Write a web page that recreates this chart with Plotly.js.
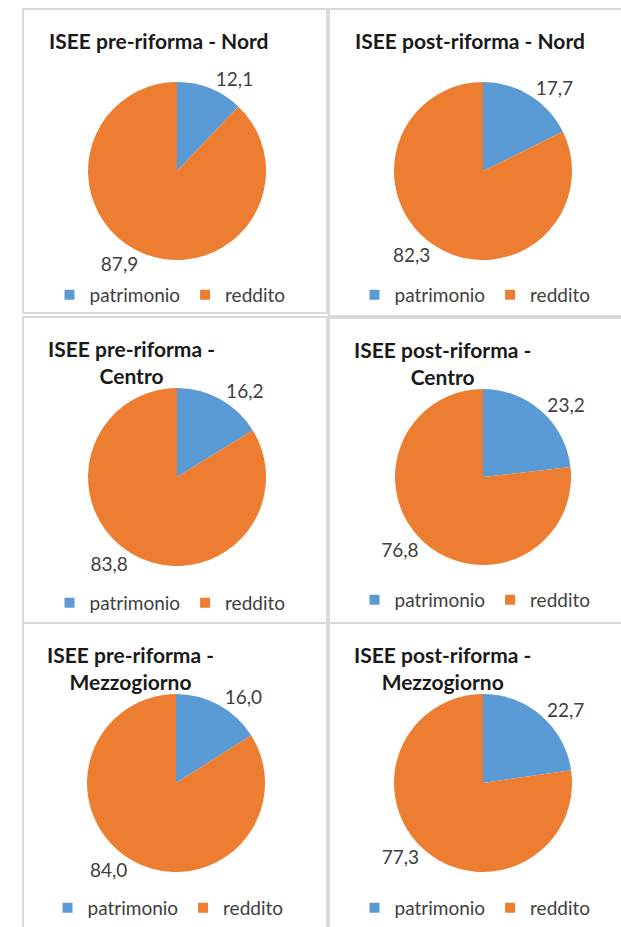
<!DOCTYPE html>
<html>
<head>
<meta charset="utf-8">
<script src="https://cdn.plot.ly/plotly-3.0.1.min.js"></script>
<style>
html,body{margin:0;padding:0;background:#fff;}
#chart{width:621px;height:927px;}
</style>
</head>
<body>
<div id="chart"></div>
<script>
// ---- data ----
const categories = ['patrimonio', 'reddito'];
const panelTitles = [
  'ISEE pre-riforma - Nord',
  'ISEE post-riforma - Nord',
  'ISEE pre-riforma -<br>Centro',
  'ISEE post-riforma -<br>Centro',
  'ISEE pre-riforma -<br>Mezzogiorno',
  'ISEE post-riforma -<br>Mezzogiorno'
];
const nordPre = [12.1, 87.9];
const nordPost = [17.7, 82.3];
const centroPre = [16.2, 83.8];
const centroPost = [23.2, 76.8];
const mezzPre = [16.0, 84.0];
const mezzPost = [22.7, 77.3];
const seriesValues = [nordPre, nordPost, centroPre, centroPost, mezzPre, mezzPost];

// ---- layout (pixels) ----
const W = 621, H = 927;
const colors = ['#5B9BD5', '#ED7D31'];
const FONT = 'Lato, "Liberation Sans", Arial, sans-serif';
// pie centre x, y, radius
const pies = [
  [177, 171, 89], [483, 171, 89],
  [177, 477, 89], [483, 477, 88],
  [176, 783, 89], [483, 783, 89]
];
const titlePos = [[158, 41], [470, 41], [131, 362], [442, 363], [130, 668], [442, 668]];
const legendPos = [[170, 295], [475, 295], [170, 603], [475, 600], [168, 908], [475, 908]];
const boxes = [
  [23, 9, 327, 313], [329, 9, 660, 316],
  [23, 317, 327, 623], [329, 318, 660, 623],
  [23, 623, 327, 960], [329, 623, 660, 960]
];

const px = x => x / W;
const py = y => 1 - y / H;

const traces = [];
const layout = {
  width: W, height: H,
  margin: {l: 0, r: 0, t: 0, b: 0},
  paper_bgcolor: '#ffffff',
  plot_bgcolor: 'rgba(0,0,0,0)',
  separators: ',.',
  font: {family: FONT, color: '#404040'},
  xaxis: {visible: false, range: [0, 1]},
  yaxis: {visible: false, range: [0, 1]},
  annotations: [],
  shapes: []
};

seriesValues.forEach((vals, i) => {
  const [cx, cy, r] = pies[i];
  const legName = i === 0 ? 'legend' : 'legend' + (i + 1);
  traces.push({
    type: 'pie',
    labels: categories,
    values: vals,
    sort: false,
    direction: 'clockwise',
    rotation: 0,
    marker: {colors: colors, line: {width: 0}},
    textinfo: 'text',
    texttemplate: '%{value:.1f}',
    textposition: 'outside',
    outsidetextfont: {size: 19, color: '#404040', family: FONT},
    hoverinfo: 'label+value',
    domain: {x: [px(cx - r), px(cx + r)], y: [py(cy + r), py(cy - r)]},
    showlegend: false
  });
  // legend entries for this panel (one per category)
  categories.forEach((cat, k) => {
    traces.push({
      type: 'scatter',
      mode: 'markers',
      x: [null], y: [null],
      name: cat,
      marker: {symbol: 'square', size: 10, color: colors[k]},
      legend: legName,
      showlegend: true,
      hoverinfo: 'skip'
    });
  });
  const [lx, ly] = legendPos[i];
  layout[legName] = {
    orientation: 'h',
    x: px(lx), xanchor: 'center',
    y: py(ly), yanchor: 'middle',
    font: {size: 19, color: '#404040', family: FONT},
    bgcolor: 'rgba(0,0,0,0)',
    itemwidth: 30,
    traceorder: 'normal'
  };
  const [tx, ty] = titlePos[i];
  layout.annotations.push({
    text: panelTitles[i],
    xref: 'paper', yref: 'paper',
    x: px(tx), y: py(ty),
    xanchor: 'center', yanchor: 'middle',
    align: 'center',
    showarrow: false,
    font: {size: 21, color: '#1a1a1a', family: FONT, weight: 700}
  });
  const [x0, y0, x1, y1] = boxes[i];
  layout.shapes.push({
    type: 'rect', xref: 'paper', yref: 'paper', layer: 'below',
    x0: px(x0), x1: px(x1), y0: py(y1), y1: py(y0),
    line: {color: '#d9d9d9', width: 2},
    fillcolor: 'rgba(0,0,0,0)'
  });
});

Plotly.newPlot('chart', traces, layout, {displayModeBar: false, staticPlot: true});
</script>
</body>
</html>
